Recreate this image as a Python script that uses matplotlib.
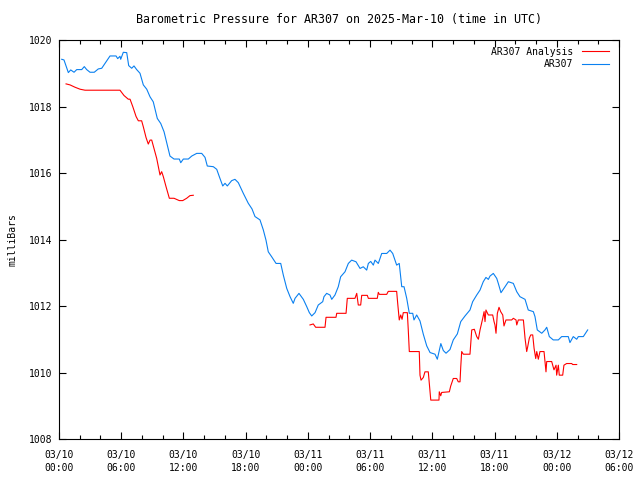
import numpy as np
import pandas as pd
import matplotlib
matplotlib.use("Agg")
import matplotlib.pyplot as plt
import matplotlib.dates as mdates

plt.rcParams['font.family'] = ['DejaVu Sans Mono']
plt.rcParams['font.size'] = 7

start = pd.Timestamp("2025-03-10 00:00")

# AR307 observed pressure (hours after start, mb)
obs_hours = [0.26, 0.48, 0.90, 1.13, 1.45, 1.71, 2.19, 2.44, 2.67, 2.99, 3.40, 3.79, 4.12, 4.44,
             4.92, 5.50, 5.66, 5.88, 5.95, 6.20, 6.53, 6.72, 7.01, 7.23, 7.49, 7.81, 8.13, 8.46,
             8.78, 9.09, 9.48, 9.81, 10.13, 10.44, 10.70, 11.09, 11.60, 11.74, 11.99, 12.47, 12.80,
             13.28, 13.76, 14.08, 14.30, 14.88, 15.21, 15.46, 15.79, 16.01, 16.23, 16.65, 16.97,
             17.29, 17.77, 18.25, 18.61, 18.90, 19.38, 19.70, 19.96, 20.18, 20.51, 20.93, 21.38,
             21.63, 21.96, 22.28, 22.59, 22.76, 23.14, 23.56, 23.89, 24.14, 24.37, 24.69, 25.00,
             25.43, 25.55, 25.81, 26.13, 26.30, 26.61, 26.93, 27.16, 27.58, 27.90, 28.22, 28.64,
             29.03, 29.34, 29.67, 29.83, 30.06, 30.31, 30.47, 30.79, 31.12, 31.60, 31.92, 32.18,
             32.56, 32.81, 33.05, 33.27, 33.53, 33.78, 34.11, 34.23, 34.49, 34.81, 35.13, 35.46,
             35.78, 36.26, 36.48, 36.82, 37.06, 37.32, 37.70, 38.02, 38.41, 38.74, 39.15, 39.63,
             39.89, 40.28, 40.60, 40.91, 41.17, 41.40, 41.56, 41.88, 42.21, 42.36, 42.62, 42.84,
             43.01, 43.33, 43.81, 44.14, 44.45, 44.94, 45.25, 45.74, 45.90, 46.12, 46.55, 46.86,
             47.03, 47.28, 47.66, 48.15, 48.47, 49.11, 49.27, 49.59, 49.92, 50.08, 50.56, 50.98]
obs_mb = [1019.42, 1019.40, 1019.02, 1019.10, 1019.03, 1019.11, 1019.11, 1019.20, 1019.11, 1019.03,
          1019.03, 1019.13, 1019.15, 1019.30, 1019.52, 1019.52, 1019.44, 1019.51, 1019.42, 1019.63,
          1019.62, 1019.23, 1019.15, 1019.22, 1019.11, 1019.00, 1018.65, 1018.52, 1018.29, 1018.14,
          1017.64, 1017.49, 1017.24, 1016.84, 1016.51, 1016.42, 1016.42, 1016.31, 1016.42, 1016.42,
          1016.51, 1016.59, 1016.59, 1016.47, 1016.21, 1016.19, 1016.11, 1015.89, 1015.61, 1015.69,
          1015.61, 1015.77, 1015.81, 1015.71, 1015.39, 1015.09, 1014.92, 1014.69, 1014.59, 1014.29,
          1013.98, 1013.63, 1013.48, 1013.28, 1013.28, 1012.93, 1012.53, 1012.28, 1012.08, 1012.23,
          1012.38, 1012.20, 1011.98, 1011.80, 1011.70, 1011.80, 1012.03, 1012.13, 1012.28, 1012.38,
          1012.33, 1012.20, 1012.33, 1012.58, 1012.88, 1013.03, 1013.28, 1013.38, 1013.33, 1013.13,
          1013.18, 1013.08, 1013.28, 1013.34, 1013.23, 1013.38, 1013.28, 1013.58, 1013.58, 1013.68,
          1013.58, 1013.23, 1013.28, 1012.58, 1012.58, 1012.23, 1011.78, 1011.78, 1011.58, 1011.73,
          1011.55, 1011.15, 1010.80, 1010.60, 1010.55, 1010.40, 1010.87, 1010.66, 1010.58, 1010.69,
          1010.98, 1011.16, 1011.53, 1011.70, 1011.88, 1012.13, 1012.33, 1012.48, 1012.73, 1012.86,
          1012.80, 1012.90, 1012.98, 1012.83, 1012.68, 1012.40, 1012.50, 1012.58, 1012.73, 1012.68,
          1012.43, 1012.28, 1012.20, 1011.88, 1011.83, 1011.68, 1011.28, 1011.18, 1011.28, 1011.36,
          1011.08, 1010.98, 1010.98, 1011.08, 1011.08, 1010.90, 1011.08, 1011.00, 1011.08, 1011.08,
          1011.28]

# AR307 Analysis (NaN marks the data gap)
ana_hours = [0.68, 1.06, 1.54, 2.03, 2.51, 5.88, 6.27, 6.68, 6.85, 7.11, 7.43, 7.65, 7.97, 8.13,
             8.39, 8.61, 8.78, 8.94, 9.16, 9.42, 9.74, 9.90, 10.06, 10.32, 10.64, 11.09, 11.60,
             11.93, 12.31, 12.63, 12.95, 18.0,
             24.20, 24.52, 24.75, 25.65, 25.75, 26.71, 26.78, 27.68, 27.80, 28.54, 28.71, 28.86,
             29.09, 29.19, 29.73, 29.83, 30.69, 30.79, 30.89, 31.60, 31.75, 32.56, 32.66, 32.81,
             32.95, 33.08, 33.20, 33.59, 33.68, 33.78, 34.74, 34.81, 34.91, 35.13, 35.29, 35.61,
             35.71, 35.85, 36.64, 36.67, 36.81, 36.90, 37.64, 37.77, 38.02, 38.35, 38.50, 38.67,
             38.74, 38.83, 38.99, 39.63, 39.80, 40.05, 40.28, 40.44, 40.60, 40.86, 40.99, 41.08,
             41.17, 41.40, 41.82, 41.95, 42.04, 42.14, 42.27, 42.43, 42.59, 42.79, 42.91, 43.10,
             43.65, 43.81, 44.07, 44.14, 44.29, 44.78, 44.94, 45.10, 45.20, 45.35, 45.49, 45.68,
             45.81, 45.97, 46.07, 46.22, 46.38, 46.77, 46.86, 46.96, 47.03, 47.51, 47.61, 47.73,
             47.93, 47.99, 48.15, 48.24, 48.57, 48.69, 48.95, 49.44, 49.53, 49.92]
ana_mb = [1018.68, 1018.65, 1018.58, 1018.52, 1018.49, 1018.49, 1018.33, 1018.22, 1018.22, 1018.00,
          1017.70, 1017.57, 1017.57, 1017.39, 1017.07, 1016.87, 1016.99, 1016.99, 1016.74, 1016.44,
          1015.94, 1016.04, 1015.89, 1015.59, 1015.24, 1015.24, 1015.17, 1015.17, 1015.24, 1015.32,
          1015.33, np.nan,
          1011.43, 1011.46, 1011.36, 1011.36, 1011.66, 1011.66, 1011.78, 1011.78, 1012.23, 1012.23,
          1012.38, 1012.03, 1012.03, 1012.32, 1012.32, 1012.23, 1012.23, 1012.41, 1012.35, 1012.35,
          1012.44, 1012.44, 1012.08, 1011.58, 1011.73, 1011.60, 1011.80, 1011.80, 1011.28, 1010.63,
          1010.63, 1009.92, 1009.77, 1009.85, 1010.02, 1010.02, 1009.67, 1009.17, 1009.17, 1009.42,
          1009.30, 1009.40, 1009.42, 1009.59, 1009.82, 1009.82, 1009.72, 1009.72, 1010.17, 1010.63,
          1010.55, 1010.55, 1011.28, 1011.30, 1011.08, 1011.00, 1011.28, 1011.63, 1011.83, 1011.53,
          1011.88, 1011.73, 1011.73, 1011.53, 1011.43, 1011.18, 1011.78, 1011.96, 1011.83, 1011.73,
          1011.40, 1011.58, 1011.58, 1011.63, 1011.58, 1011.43, 1011.58, 1011.58, 1011.03, 1010.63,
          1010.78, 1011.03, 1011.13, 1011.13, 1010.73, 1010.42, 1010.63, 1010.40, 1010.63, 1010.63,
          1010.33, 1010.02, 1010.33, 1010.33, 1010.22, 1010.08, 1010.22, 1009.92, 1010.22, 1009.92,
          1009.92, 1010.22, 1010.27, 1010.27, 1010.24, 1010.24]

obs_t = start + pd.to_timedelta(obs_hours, unit='h')
ana_t = start + pd.to_timedelta(ana_hours, unit='h')

fig = plt.figure(figsize=(6.4, 4.8), dpi=100)
ax = fig.add_axes([59 / 640, 1 - 439 / 480, 560 / 640, 399 / 480])

ax.plot(ana_t, ana_mb, color='#ff0000', linewidth=0.8, label='AR307 Analysis')
ax.plot(obs_t, obs_mb, color='#0a80f0', linewidth=0.8, label='AR307')

ax.set_xlim(start, start + pd.Timedelta(hours=54))
ax.set_ylim(1008, 1020)
ax.set_yticks(range(1008, 1021, 2))
ax.xaxis.set_major_locator(mdates.HourLocator(byhour=[0, 6, 12, 18]))
ax.xaxis.set_minor_locator(mdates.HourLocator(interval=2))
ax.xaxis.set_major_formatter(mdates.DateFormatter('%m/%d\n%H:%M'))

ax.tick_params(which='both', direction='in', top=True, right=True, colors='black')
ax.tick_params(which='major', length=5, width=0.8, pad=5)
ax.tick_params(axis='x', which='major', pad=8)
ax.tick_params(which='minor', length=3, width=0.8)
for s in ax.spines.values():
    s.set_linewidth(0.8)

ax.set_ylabel('milliBars', labelpad=8)
ax.set_title('Barometric Pressure for AR307 on 2025-Mar-10 (time in UTC)', pad=12)

ax.legend(loc='upper right', bbox_to_anchor=(1 - 3 / 560, 1), frameon=False,
          markerfirst=False, handlelength=2.8, borderaxespad=0.3,
          labelspacing=0.25, handletextpad=0.9)

fig.canvas.draw()
for lbl in ax.get_xticklabels():
    lbl.set_linespacing(1.35)

fig.savefig('out.png', dpi=100)
